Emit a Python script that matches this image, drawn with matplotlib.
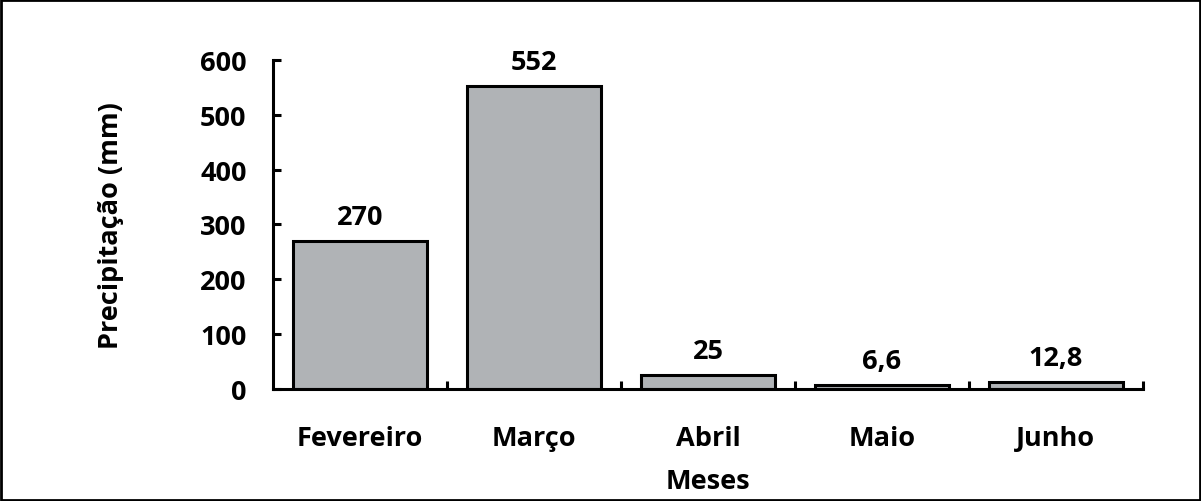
import matplotlib.pyplot as plt
import numpy as np

plt.rcParams['font.family'] = ['Open Sans', 'DejaVu Sans']
plt.rcParams['font.weight'] = 'bold'

# dados de precipitação mensal
meses = ['Fevereiro', 'Março', 'Abril', 'Maio', 'Junho']
precip = [270, 552, 25, 6.6, 12.8]
rotulos = ['270', '552', '25', '6,6', '12,8']

fs = 19.5

fig = plt.figure(figsize=[12.01, 5.02], dpi=100)
ax = fig.add_axes([0.2273, 0.2231, 0.7244, 0.6554])

x = np.arange(len(meses))
ax.bar(x, precip, width=0.77, color='#B0B3B6', edgecolor='black', linewidth=2.2)

for xi, v, r in zip(x, precip, rotulos):
    ax.annotate(r, (xi, v), xytext=(0, 8), textcoords='offset points',
                ha='center', va='bottom', fontsize=fs, fontweight='bold')

ax.set_xlim(-0.5, 4.5)
ax.set_ylim(0, 600)
ax.set_yticks(range(0, 601, 100))
ax.set_xticks(x)
ax.set_xticklabels(meses)
ax.set_xticks(np.arange(0.5, 5, 1), minor=True)
ax.tick_params(axis='x', which='major', length=0, pad=26, labelsize=fs)
ax.tick_params(axis='x', which='minor', direction='in', length=6, width=2.2)
ax.tick_params(axis='y', direction='in', length=6, width=2.2, pad=19, labelsize=fs)

for s in ['top', 'right']:
    ax.spines[s].set_visible(False)
for s in ['left', 'bottom']:
    ax.spines[s].set_linewidth(2.2)

ax.set_ylabel('Precipitação (mm)', fontsize=fs, fontweight='bold', labelpad=55)
ax.set_xlabel('Meses', fontsize=fs, fontweight='bold', labelpad=12)

fig.patches.append(plt.Rectangle((0.001, 0.002), 0.998, 0.996, transform=fig.transFigure,
                                 fill=False, edgecolor='black', linewidth=2))

plt.savefig('out.png', dpi=100)
